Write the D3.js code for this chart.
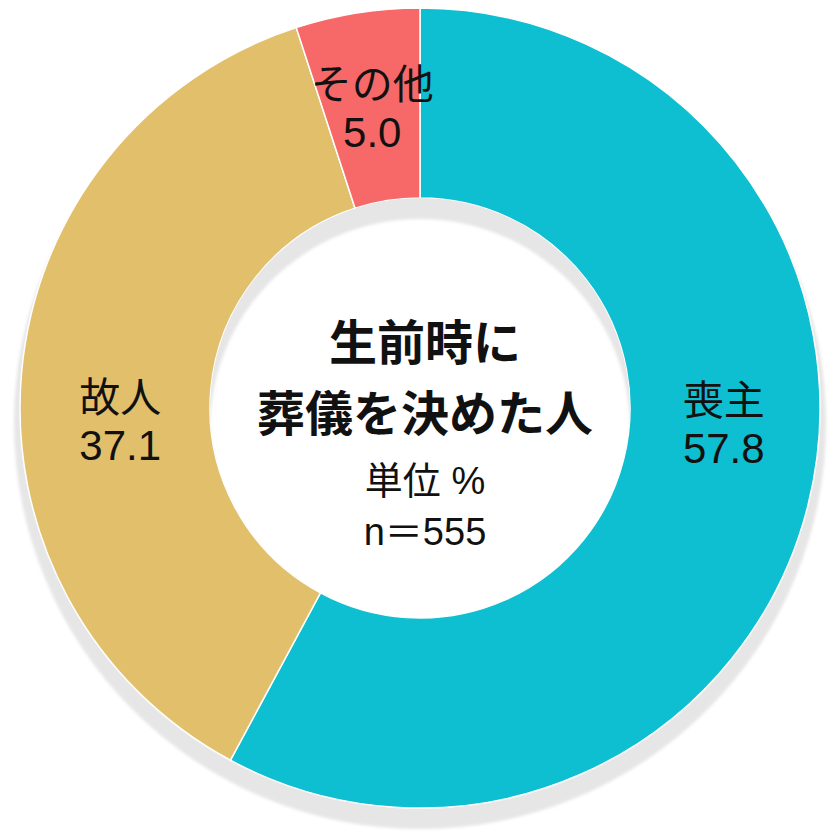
<!DOCTYPE html>
<html>
<head>
<meta charset="utf-8">
<script src="https://cdn.jsdelivr.net/npm/d3@7"></script>
<style>
  html, body { margin: 0; padding: 0; background: #fff; }
  text { font-family: "Liberation Sans", "Noto Sans CJK JP", sans-serif; fill: #111; }
</style>
</head>
<body>
<div id="chart"></div>
<script>
// data
const categories = ["喪主", "故人", "その他"];
const values = [57.8, 37.1, 5.0];
const colors = ["#0dbfd0", "#e1bf6b", "#f76868"];
const titleLines = ["生前時に", "葬儀を決めた人"];
const noteLines = ["単位 %", "n＝555"];

const width = 840, height = 840;
const cx = 420, cy = 408;
const outerR = 400, innerR = 210;

let svg = d3.select("#chart")
    .append("svg")
    .attr("width", width)
    .attr("height", height);

let defs = svg.append("defs");
defs.append("clipPath")
    .attr("id", "hole")
    .append("circle")
    .attr("cx", cx).attr("cy", cy).attr("r", innerR);
defs.append("filter")
    .attr("id", "soft")
    .append("feGaussianBlur")
    .attr("stdDeviation", 1.5);

// drop shadow under the ring
svg.append("circle")
    .attr("cx", cx).attr("cy", cy + 15)
    .attr("r", outerR + 6)
    .attr("fill", "#e6e6e6")
    .attr("filter", "url(#soft)");

let g = svg.append("g")
    .attr("transform", `translate(${cx}, ${cy})`);

let pie = d3.pie().sort(null).value(d => d);
let arcs = pie(values);

let arc = d3.arc().innerRadius(innerR).outerRadius(outerR);

g.selectAll("path.slice")
    .data(arcs)
    .enter()
    .append("path")
    .attr("class", "slice")
    .attr("d", arc)
    .attr("fill", (d, i) => colors[i])
    .attr("stroke", "#fff")
    .attr("stroke-width", 1.5);

// inner shadow in the hole
let hole = svg.append("g").attr("clip-path", "url(#hole)");
hole.append("circle")
    .attr("cx", cx).attr("cy", cy).attr("r", innerR)
    .attr("fill", "#e6e6e6");
hole.append("circle")
    .attr("cx", cx).attr("cy", cy + 21).attr("r", innerR)
    .attr("fill", "#fff")
    .attr("filter", "url(#soft)");

// slice labels, placed near the middle of the ring
let labelArc = d3.arc().innerRadius(305).outerRadius(305);
let nudge = [[8, -60], [4, 39], [0, 0]];

let labels = g.selectAll("g.label")
    .data(arcs)
    .enter()
    .append("g")
    .attr("class", "label")
    .attr("transform", (d, i) => {
        let c = labelArc.centroid(d);
        return `translate(${c[0] + nudge[i][0]}, ${c[1] + nudge[i][1]})`;
    });

labels.append("text")
    .attr("text-anchor", "middle")
    .attr("y", -8)
    .style("font-size", "41px")
    .text((d, i) => categories[i]);

labels.append("text")
    .attr("text-anchor", "middle")
    .attr("y", 40)
    .style("font-size", "42px")
    .text(d => d.data.toFixed(1));

// centre text
let center = svg.append("g")
    .attr("transform", `translate(${cx + 5}, ${cy})`);

center.selectAll("text.title")
    .data(titleLines)
    .enter()
    .append("text")
    .attr("class", "title")
    .attr("text-anchor", "middle")
    .attr("y", (d, i) => -48 + i * 71)
    .style("font-size", "48px")
    .style("font-weight", 700)
    .text(d => d);

center.selectAll("text.note")
    .data(noteLines)
    .enter()
    .append("text")
    .attr("class", "note")
    .attr("text-anchor", "middle")
    .attr("y", (d, i) => 86 + i * 51)
    .style("font-size", "38px")
    .text(d => d);
</script>
</body>
</html>
